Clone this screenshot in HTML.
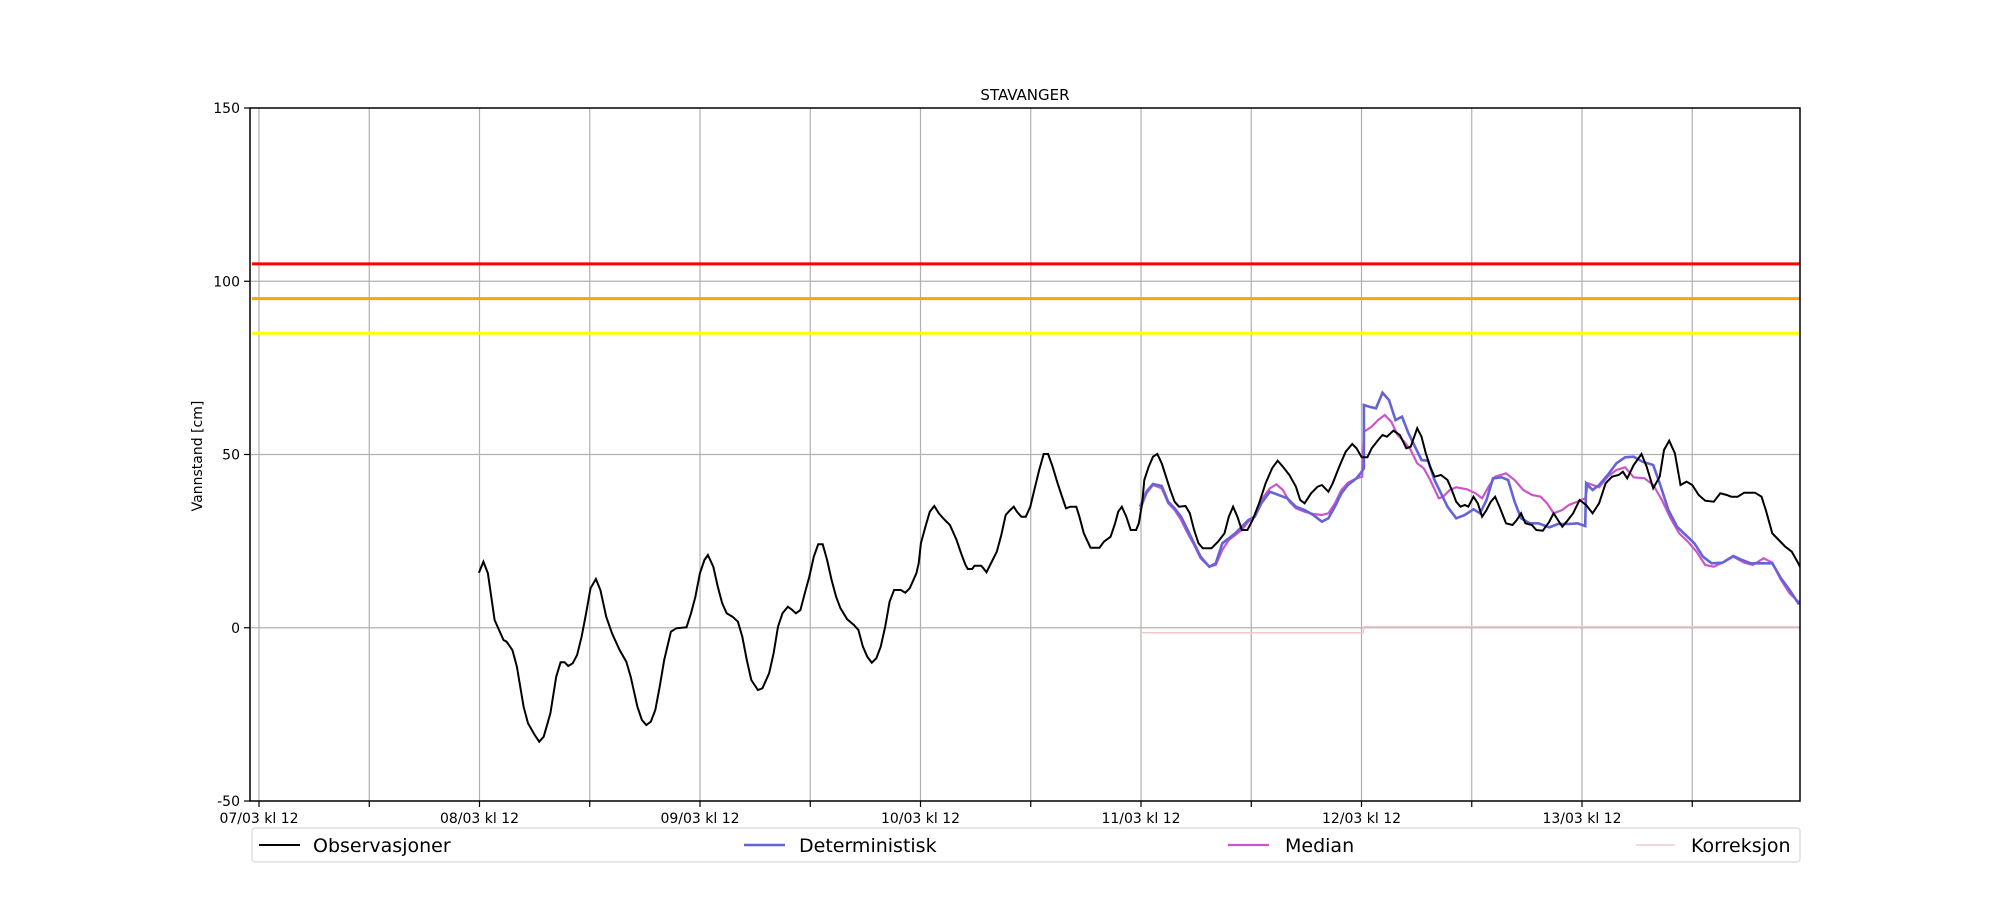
<!DOCTYPE html>
<html><head><meta charset="utf-8"><style>
html,body{margin:0;padding:0;background:#fff;}
svg text{font-family:"DejaVu Sans","Liberation Sans",sans-serif;fill:#000;}
</style></head><body>
<svg id="s" width="2000" height="900" viewBox="0 0 2000 900" xmlns="http://www.w3.org/2000/svg">
<defs><clipPath id="ax"><rect x="250" y="108" width="1550" height="693"/></clipPath></defs>
<g id="grid" stroke="#b0b0b0" stroke-width="1.2"></g>
<g clip-path="url(#ax)">
<line x1="252" y1="263.9" x2="1800" y2="263.9" stroke="#ff0000" stroke-width="3"/>
<line x1="252" y1="298.6" x2="1800" y2="298.6" stroke="#ffa500" stroke-width="3"/>
<line x1="252" y1="333.2" x2="1800" y2="333.2" stroke="#ffff00" stroke-width="3"/>
<polyline points="1141,632.7 1363,632.7 1364,626.7 1800,626.7" fill="none" stroke="#f0c8c8" stroke-width="1.5"/>
<polyline id="med" fill="none" stroke="#cc55cc" stroke-width="2.2"/>
<polyline id="det" fill="none" stroke="#6464d8" stroke-width="2.6"/>
<polyline id="obs" fill="none" stroke="#000" stroke-width="2"/>
</g>
<rect x="250" y="108" width="1550" height="693" fill="none" stroke="#000" stroke-width="1.5"/>
<g id="ticks" stroke="#000" stroke-width="1.2"></g>
<g id="labels" font-size="14"></g>
<text x="1025" y="100" font-size="15" text-anchor="middle">STAVANGER</text>
<text transform="translate(202,456) rotate(-90)" font-size="14" text-anchor="middle">Vannstand [cm]</text>
<rect x="252" y="828" width="1548" height="34" rx="3" fill="#fff" stroke="#d8d8d8" stroke-width="1.2"/>
<line x1="259" y1="845" x2="300" y2="845" stroke="#000" stroke-width="2"/>
<text x="313" y="852" font-size="19">Observasjoner</text>
<line x1="744" y1="845" x2="785" y2="845" stroke="#6464d8" stroke-width="2.6"/>
<text x="799" y="852" font-size="19">Deterministisk</text>
<line x1="1228" y1="845" x2="1269" y2="845" stroke="#cc55cc" stroke-width="2.2"/>
<text x="1285" y="852" font-size="19">Median</text>
<line x1="1636" y1="845" x2="1675" y2="845" stroke="#f0c8c8" stroke-width="1.5"/>
<text x="1691" y="852" font-size="19">Korreksjon</text>
</svg>
<script>
var NS="http://www.w3.org/2000/svg";
function el(p,t,a,txt){var e=document.createElementNS(NS,t);for(var k in a)e.setAttribute(k,a[k]);if(txt)e.textContent=txt;document.getElementById(p).appendChild(e);}
var yv=function(v){return 108+(150-v)*3.465;};
[150,100,50,0,-50].forEach(function(v){var y=yv(v);
 if(v<150&&v>-50)el("grid","line",{x1:250,x2:1800,y1:y,y2:y});
 el("ticks","line",{x1:244,x2:250,y1:y,y2:y});
 el("labels","text",{x:240,y:y+5,"text-anchor":"end"},String(v));});
var lab=["07/03 kl 12","08/03 kl 12","09/03 kl 12","10/03 kl 12","11/03 kl 12","12/03 kl 12","13/03 kl 12"];
for(var i=0;i<14;i++){var x=259+i*110.25;
 el("grid","line",{x1:x,x2:x,y1:108,y2:801});
 el("ticks","line",{x1:x,x2:x,y1:801,y2:807});
 if(i%2==0)el("labels","text",{x:x,y:823,"text-anchor":"middle"},lab[i/2]);}
function f3(a){return a.map(function(p){return (470+p[0]/2.24).toFixed(1)+","+(420+p[1]/3).toFixed(1);});}
function f4(a){return a.map(function(p){return (1140+p[0]/2.309).toFixed(1)+","+(370+p[1]/3).toFixed(1);});}
var o3=[[20,458],[30,425],[40,460],[55,600],[75,660],[82,665],[95,690],[105,740],[120,860],[130,910],[145,945],[155,965],[165,950],[180,880],[193,770],[203,727],[212,727],[220,738],[230,730],[240,705],[250,650],[260,580],[270,505],[282,477],[292,510],[305,590],[318,640],[335,690],[350,725],[360,770],[375,860],[385,900],[395,915],[405,905],[415,870],[425,800],[435,720],[450,635],[462,625],[485,622],[495,580],[505,530],[515,460],[525,420],[533,405],[545,440],[555,500],[565,550],[575,580],[588,590],[600,605],[610,650],[620,720],[630,780],[645,810],[655,805],[670,760],[680,700],[690,620],[700,580],[712,560],[722,570],[730,580],[740,570],[750,520],[760,470],[770,410],[780,373],[790,373],[800,420],[810,480],[820,530],[830,565],[845,598],[860,615],[870,630],[880,680],[890,710],[900,728],[910,715],[920,680],[930,620],[940,545],[950,510],[965,510],[975,518],[985,505],[1000,460],[1005,430],[1010,370],[1020,320],[1030,275],[1040,258],[1050,280],[1060,295],[1075,315],[1090,360],[1100,400],[1110,435],[1115,447],[1125,447],[1130,437],[1145,437],[1150,445],[1157,457],[1165,435],[1180,395],[1190,345],[1200,285],[1210,270],[1218,260],[1225,275],[1235,290],[1245,290],[1255,260],[1265,205],[1275,150],[1285,102],[1295,102],[1305,140],[1315,185],[1325,225],[1335,265],[1345,260],[1358,260],[1365,290],[1375,340],[1390,383],[1410,383],[1420,365],[1435,350],[1445,310],[1452,275],[1460,260],[1470,290],[1480,330],[1492,330],[1498,310]];
var o4=[[5,400],[10,330],[20,290],[30,260],[40,252],[50,280],[60,320],[70,360],[80,395],[90,410],[105,408],[115,430],[125,480],[135,520],[145,535],[165,535],[180,515],[195,490],[205,440],[215,410],[225,440],[235,480],[248,480],[260,450],[275,400],[290,340],[305,295],[318,272],[330,290],[345,315],[360,350],[370,390],[380,400],[395,370],[410,350],[420,345],[435,365],[445,340],[460,290],[475,245],[490,222],[500,235],[512,262],[525,262],[535,235],[550,210],[560,195],[570,200],[585,182],[600,195],[615,235],[625,230],[640,175],[650,200],[660,250],[670,290],[680,320],[695,315],[710,330],[720,360],[730,395],[740,410],[750,405],[758,410],[770,380],[780,400],[790,440],[800,420],[810,395],[820,380],[830,410],[845,460],[860,465],[870,450],[880,430],[890,460],[905,465],[915,480],[930,482],[945,455],[955,430],[965,450],[975,470],[985,455],[1000,430],[1015,390],[1030,405],[1045,430],[1060,400],[1075,340],[1090,320],[1105,315],[1115,305],[1125,325],[1140,285],[1158,252],[1170,290],[1185,355],[1200,320],[1210,240],[1222,212],[1235,250],[1248,345],[1262,335],[1275,345],[1290,375],[1305,392],[1325,395],[1340,370],[1355,375],[1365,380],[1380,380],[1395,368],[1420,368],[1435,380],[1445,420],[1460,490],[1475,510],[1490,530],[1505,545],[1520,580],[1535,620],[1545,638]];
var d4=[[0,410],[15,365],[30,342],[50,348],[65,395],[80,415],[95,440],[110,480],[125,520],[140,560],[160,590],[175,580],[190,520],[205,505],[220,490],[235,470],[250,450],[265,440],[280,400],[300,365],[320,375],[340,385],[360,410],[380,420],[400,435],[420,455],[435,445],[450,410],[465,370],[480,345],[500,325],[512,305],[517,295],[517,105],[530,110],[545,115],[560,68],[575,90],[590,150],[605,140],[620,190],[635,230],[650,270],[665,272],[680,330],[695,370],[710,410],[730,445],[750,435],[770,418],[785,430],[800,390],[815,325],[835,322],[850,330],[865,395],[880,445],[900,460],[920,460],[945,472],[965,462],[990,462],[1010,460],[1028,468],[1030,340],[1045,360],[1060,345],[1080,315],[1100,280],[1120,262],[1140,260],[1160,275],[1185,285],[1200,340],[1220,420],[1240,470],[1260,495],[1280,520],[1300,560],[1320,580],[1345,578],[1370,558],[1390,570],[1410,580],[1430,580],[1460,580],[1480,625],[1500,660],[1520,700],[1545,685]];
var m4=[[0,420],[15,370],[30,345],[50,355],[65,400],[80,420],[95,450],[110,490],[125,525],[140,565],[160,590],[175,585],[190,540],[205,510],[220,495],[235,480],[250,455],[265,440],[280,390],[300,355],[315,343],[330,360],[345,395],[360,415],[380,425],[400,432],[420,435],[435,430],[450,400],[465,360],[480,338],[500,325],[513,320],[517,185],[535,170],[550,150],[565,135],[580,155],[595,195],[610,215],[625,240],[640,280],[655,295],[670,330],[690,385],[700,380],[715,360],[730,352],[755,358],[775,370],[790,385],[805,350],[820,320],[845,310],[865,330],[885,360],[905,375],[925,380],[940,400],[955,430],[975,420],[990,405],[1010,395],[1028,385],[1035,340],[1060,352],[1080,320],[1100,300],[1120,292],[1140,322],[1165,325],[1185,345],[1205,390],[1225,445],[1245,490],[1265,515],[1285,545],[1305,585],[1325,590],[1345,578],[1370,560],[1395,578],[1415,585],[1440,565],[1460,578],[1480,630],[1500,670],[1520,695],[1545,690]];
document.getElementById("obs").setAttribute("points",f3(o3).concat(f4(o4)).join(" "));
document.getElementById("det").setAttribute("points",f4(d4).join(" "));
document.getElementById("med").setAttribute("points",f4(m4).join(" "));
</script>
</body></html>
